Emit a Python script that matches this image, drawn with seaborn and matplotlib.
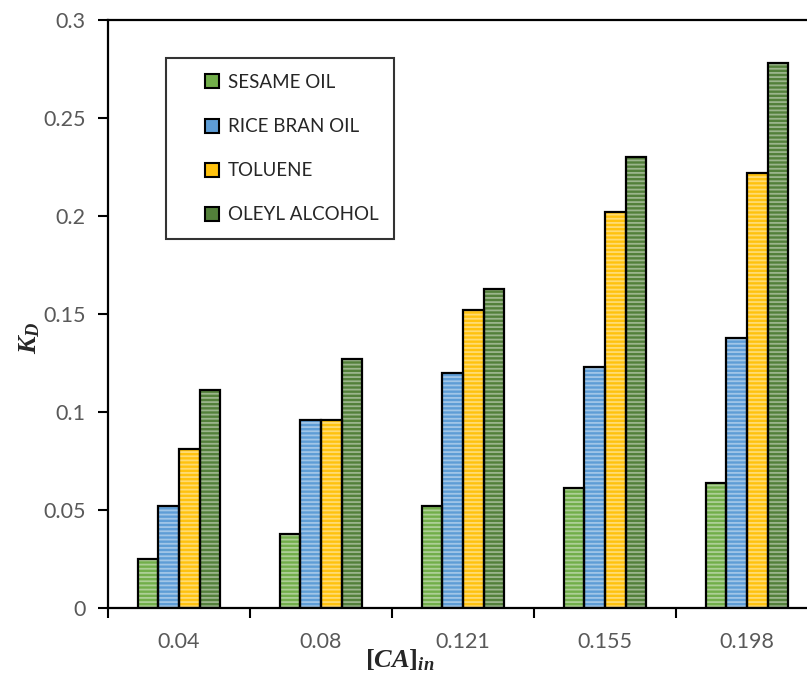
import matplotlib
matplotlib.use("Agg")
import matplotlib.pyplot as plt
import seaborn as sns
import pandas as pd
from matplotlib.patches import Rectangle, Patch
from matplotlib.legend_handler import HandlerPatch

# ---- data ----
concentrations = ["0.04", "0.08", "0.121", "0.155", "0.198"]
sesame_oil = [0.025, 0.038, 0.052, 0.061, 0.064]
rice_bran_oil = [0.052, 0.096, 0.120, 0.123, 0.138]
toluene = [0.081, 0.096, 0.152, 0.202, 0.222]
oleyl_alcohol = [0.111, 0.127, 0.163, 0.230, 0.278]
series_names = ["SESAME OIL", "RICE BRAN OIL", "TOLUENE", "OLEYL ALCOHOL"]
series_colors = ["#72AE4A", "#5E9DD6", "#FFC20E", "#53803A"]
y_ticks = [0, 0.05, 0.1, 0.15, 0.2, 0.25, 0.3]
y_tick_labels = ["0", "0.05", "0.1", "0.15", "0.2", "0.25", "0.3"]

rows = []
for name, vals in zip(series_names, [sesame_oil, rice_bran_oil, toluene, oleyl_alcohol]):
    for c, v in zip(concentrations, vals):
        rows.append({"CA": c, "KD": v, "solvent": name})
df = pd.DataFrame(rows)

sns.set_theme(style="white")
plt.rcParams["font.family"] = ["Lato", "DejaVu Sans"]
plt.rcParams["hatch.linewidth"] = 1.3
plt.rcParams["mathtext.fontset"] = "custom"
plt.rcParams["mathtext.rm"] = "Liberation Serif:bold"
plt.rcParams["mathtext.it"] = "Liberation Serif:italic:bold"
plt.rcParams["mathtext.bf"] = "Liberation Serif:bold"

fig = plt.figure(figsize=(8.07, 6.77), dpi=100)
ax = fig.add_axes([108 / 807, 69 / 677, 710 / 807, 588 / 677])

sns.barplot(data=df, x="CA", y="KD", hue="solvent", order=concentrations,
            hue_order=series_names, palette=series_colors, width=0.58,
            gap=0, saturation=1, edgecolor="black", linewidth=1.5,
            legend=False, ax=ax)

# striped texture + black outline
bars = list(ax.patches)
for p in bars:
    p.set_hatch("----")
    p.set_edgecolor((1, 1, 1, 0.42))
    p.set_linewidth(0)
    ax.add_patch(Rectangle(p.get_xy(), p.get_width(), p.get_height(),
                           facecolor="none", edgecolor="black", linewidth=1.6,
                           zorder=p.get_zorder() + 0.1))

ax.set_ylim(0, 0.3)
ax.set_xlim(-0.5, len(concentrations) - 0.5)
ax.set_yticks(y_ticks)
ax.set_yticklabels(y_tick_labels)
ax.set_xticks(range(len(concentrations)))
ax.set_xticklabels(concentrations)
ax.set_xticks([i - 0.5 for i in range(len(concentrations) + 1)], minor=True)

ax.tick_params(axis="y", which="major", direction="out", length=7, width=1.5,
               color="black", labelsize=15.5, labelcolor="#595959", pad=9, left=True)
ax.tick_params(axis="x", which="major", length=0, labelsize=15.5,
               labelcolor="#595959", pad=17, bottom=True)
ax.tick_params(axis="x", which="minor", direction="out", length=7, width=1.5,
               color="black", bottom=True)

for s in ["left", "bottom", "top", "right"]:
    ax.spines[s].set_visible(True)
    ax.spines[s].set_color("black")
    ax.spines[s].set_linewidth(1.6)

ax.set_ylabel(r"$K_D$", fontsize=19, va="center")
ax.yaxis.set_label_coords(-0.11, 0.46)
ax.set_xlabel(r"$[CA]_{in}$", fontsize=19, va="center")
ax.xaxis.set_label_coords(0.411, -0.088)


def square_patch(legend, orig_handle, xdescent, ydescent, width, height, fontsize):
    sq = 0.75 * fontsize
    return Rectangle((-xdescent + width - sq, -ydescent + (height - sq) / 2), sq, sq)


handles = [Patch(facecolor=c, edgecolor="black", linewidth=1.5) for c in series_colors]
leg = ax.legend(handles, series_names, loc="upper left",
                bbox_to_anchor=(58 / 710, 550 / 588), frameon=True, fancybox=False,
                fontsize=13.5, labelspacing=1.45, handlelength=2.0, handletextpad=0.45,
                borderpad=0.85, borderaxespad=0,
                handler_map={Patch: HandlerPatch(patch_func=square_patch)})
leg.get_frame().set_edgecolor("black")
leg.get_frame().set_linewidth(1.5)
for t in leg.get_texts():
    t.set_color("#262626")

fig.savefig("out.png", dpi=100)
